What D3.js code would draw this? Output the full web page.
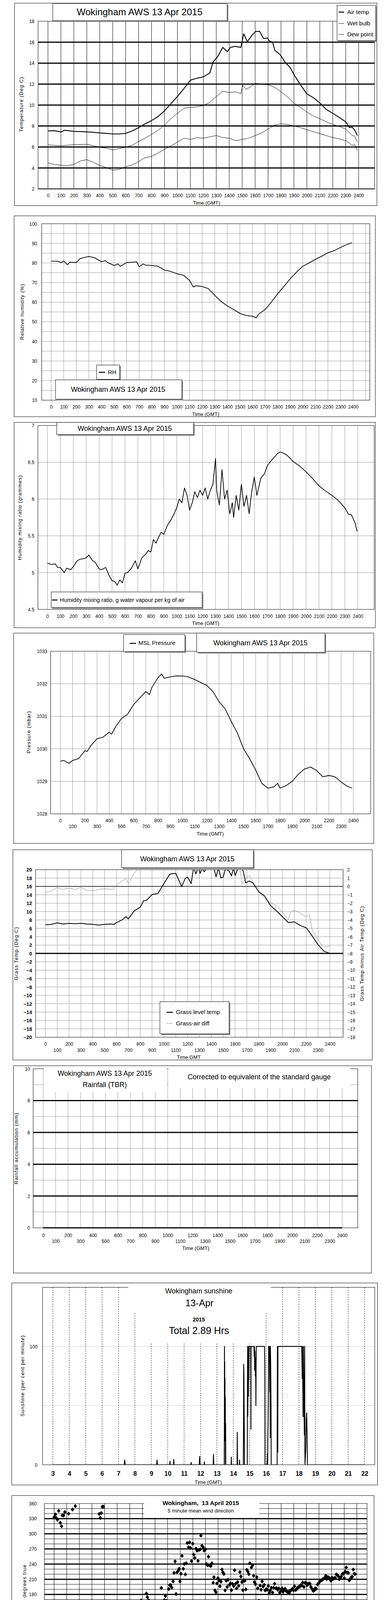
<!DOCTYPE html>
<html lang="en">
<head>
<meta charset="UTF-8">
<title>Wokingham AWS 13 Apr 2015</title>
<script src="https://d3js.org/d3.v7.min.js"></script>
<style>
  html, body { margin: 0; padding: 0; background: #fff; width: 1000px; height: 5000px; overflow: hidden; }
  svg { display: block; position: absolute; left: 0; top: 0; }
  text { white-space: pre; }
</style>
</head>
<body>
<svg id="chart" width="1000" height="5000"></svg>
<script>
// ---------- data ----------
const airT = [0,50,100,130,200,250,300,350,400,450,500,550,600,650,700,750,800,850,900,950,1000,1050,1100,1150,1200,1250,1275,1310,1350,1385,1410,1445,1490,1512,1540,1575,1605,1635,1665,1695,1712,1735,1753,1770,1796,1836,1867,1907,1950,2000,2050,2100,2150,2200,2250,2300,2330,2350,2370,2390];
const airV = [7.53,7.55,7.44,7.6,7.49,7.47,7.44,7.40,7.34,7.30,7.24,7.24,7.30,7.53,7.84,8.2,8.52,8.9,9.45,10.14,10.82,11.57,12.38,12.56,12.69,13.06,14.1,14.6,15.5,15.1,15.5,15.6,15.5,16.8,16.05,16.65,17.03,17.03,16.35,16.4,16.1,16.0,15.2,15.05,14.77,14.0,13.64,12.77,11.94,11.07,10.7,10.2,9.58,9.21,8.83,8.4,7.84,7.9,7.6,7.09];
const wetT = [0,100,200,300,350,400,450,500,550,600,650,700,750,800,850,900,950,1000,1050,1100,1150,1200,1250,1300,1350,1400,1450,1490,1505,1530,1560,1600,1650,1700,1750,1800,1850,1900,1950,2000,2050,2100,2150,2200,2250,2300,2330,2350,2370,2390];
const wetV = [6.2,6.12,6.22,6.26,6.12,5.97,5.89,5.72,5.85,5.97,6.16,6.53,6.84,7.2,7.59,8.09,8.7,9.2,9.7,9.77,9.83,9.95,10.26,10.82,11.32,11.2,11.26,11.1,11.9,11.5,11.7,12.07,12.0,11.94,11.7,11.26,10.76,10.2,9.77,9.33,8.96,8.7,8.4,8.15,7.96,7.71,7.34,7.09,7.03,6.47];
const dewT = [0,50,100,150,200,250,300,350,400,450,500,550,600,650,700,750,800,850,900,950,1000,1050,1100,1150,1200,1250,1300,1350,1400,1450,1500,1550,1600,1650,1700,1750,1800,1850,1900,1950,2000,2050,2100,2150,2200,2250,2300,2330,2350,2370,2390];
const dewV = [4.48,4.33,4.26,4.21,4.33,4.67,4.79,4.54,4.23,4.04,3.8,3.86,4.11,4.29,4.6,4.98,5.1,5.41,5.78,6.1,6.47,6.84,6.72,6.9,6.84,6.97,7.09,6.9,6.84,6.6,6.72,6.84,7.09,7.34,7.71,8.09,8.21,8.15,8.02,7.84,7.65,7.47,7.28,7.09,6.9,6.78,6.6,6.35,6.16,6.22,5.66];

const rhT = [0,50,80,100,130,150,200,230,270,300,330,350,400,430,450,500,530,550,600,650,680,700,730,750,800,850,900,950,1000,1050,1100,1130,1150,1200,1250,1300,1350,1400,1450,1500,1550,1600,1630,1650,1700,1750,1800,1850,1900,1950,2000,2050,2100,2150,2200,2250,2300,2350,2390];
const rhV = [80.9,80.9,80.2,81.0,79.1,80.4,80.2,82.2,82.9,83.3,82.9,82.5,80.6,81.2,80.2,78.7,79.5,78.3,80.2,80.4,80.6,78.0,79.5,78.9,78.7,78.3,76.4,75.7,74.5,73.8,71.1,67.7,68.4,68.0,66.9,63.5,60.4,58.1,56.2,54.3,53.2,52.8,52.0,53.9,56.2,60.0,64.2,68.0,71.9,75.3,78.3,80.0,81.8,83.4,85.2,86.3,87.9,89.4,90.3];

const mixT = [0,30,60,80,100,130,150,180,200,230,250,280,300,320,350,370,400,420,450,480,500,520,540,560,580,600,620,650,680,700,730,760,780,800,820,840,860,880,900,930,950,980,1000,1020,1040,1060,1080,1100,1120,1140,1160,1180,1200,1220,1240,1260,1280,1300,1310,1330,1350,1370,1390,1410,1430,1440,1460,1480,1500,1520,1540,1560,1580,1600,1620,1650,1680,1700,1720,1750,1780,1800,1830,1850,1880,1900,1950,2000,2050,2100,2150,2200,2250,2300,2330,2350,2380,2395];
const mixV = [5.13,5.11,5.12,5.07,5.07,5.0,5.06,5.04,5.08,5.16,5.18,5.19,5.2,5.24,5.16,5.14,5.05,5.04,5.07,4.95,4.89,4.88,4.83,4.9,4.86,4.99,5.0,5.06,5.16,5.05,5.2,5.25,5.3,5.28,5.45,5.4,5.48,5.55,5.52,5.65,5.7,5.8,5.88,6.0,5.95,6.15,6.05,5.85,5.95,6.1,6.02,6.12,6.05,6.15,6.0,6.12,6.2,6.55,6.1,5.92,6.4,6.0,6.12,5.8,5.95,5.75,6.05,5.85,6.2,5.9,6.05,5.8,6.1,6.3,6.05,6.28,6.35,6.45,6.5,6.56,6.62,6.64,6.62,6.6,6.55,6.51,6.45,6.37,6.28,6.18,6.11,6.05,5.98,5.88,5.79,5.79,5.67,5.56];

const presT = [0,30,70,100,150,200,220,250,300,350,400,420,450,500,550,600,650,700,730,750,800,830,850,900,950,1000,1050,1100,1150,1200,1250,1300,1350,1400,1450,1500,1550,1600,1650,1700,1750,1780,1800,1850,1900,1950,2000,2050,2100,2150,2200,2250,2300,2350,2390];
const presV = [1029.62,1029.64,1029.55,1029.64,1029.70,1029.94,1029.92,1030.10,1030.31,1030.36,1030.51,1030.45,1030.66,1030.93,1031.06,1031.36,1031.56,1031.76,1031.67,1031.89,1032.19,1032.30,1032.17,1032.21,1032.24,1032.24,1032.21,1032.13,1032.04,1031.95,1031.76,1031.45,1031.23,1030.84,1030.49,1030.01,1029.70,1029.35,1028.94,1028.79,1028.83,1028.94,1028.79,1028.87,1029.0,1029.22,1029.38,1029.44,1029.33,1029.14,1029.18,1029.14,1028.98,1028.85,1028.79];

const grassT = [0,50,100,150,200,250,300,350,400,450,500,550,580,600,650,680,700,750,800,830,850,900,950,1000,1050,1100,1150,1180,1200,1230,1250,1270,1290,1305,1320,1340,1380,1420,1440,1460,1480,1500,1520,1552,1570,1585,1602,1630,1650,1670,1690,1720,1751,1800,1850,1900,1950,2000,2050,2100,2150,2200,2250,2300,2350,2395];
const grassV = [6.84,6.95,7.3,7.02,7.19,7.09,7.19,7.02,6.95,6.77,6.95,7.02,6.95,7.37,8.07,8.77,8.25,10.18,11.05,12.63,12.63,14.04,14.32,16.67,18.95,19.12,15.96,17.9,18.25,16.67,20.5,19.0,20.6,19.1,20.3,19.5,21,20.6,18.3,20.4,18.0,18.25,20.3,19.6,18.5,20.4,18.6,20.8,21,19.5,16.84,17.3,16.84,14.74,13.68,11.4,10.18,8.77,7.37,7.54,6.67,6.14,4.2,2.1,0.53,0.07];
const diffT = [0,51,101,149,200,251,301,349,400,451,501,575,600,651,680,701,749,775,790,1620,1642,1659,1690,1722,1754,1800,1850,1900,1950,2000,2050,2069,2100,2150,2200,2227,2251,2300,2333,2354,2400];
const diffV = [-0.72,-0.54,-0.1,-0.37,-0.19,-0.37,-0.1,-0.46,-0.54,-0.37,-0.28,-0.37,0.16,0.68,0.95,0.33,1.56,2.0,2.4,2.4,2.0,0.33,0.95,1.3,0.42,-0.63,-1.42,-1.95,-2.3,-3.09,-3.96,-3.09,-2.82,-3.18,-3.61,-3.35,-5.19,-6.33,-7.04,-7.21,-7.12];

const rainT = [0, 2400];
const rainV = [0, 0];

const sunH = [3,7.35,7.38,7.41,9.32,9.35,9.38,10.12,10.14,10.16,10.35,10.37,10.39,11.41,11.43,11.45,11.92,11.95,11.97,12.22,12.24,12.26,12.77,12.79,12.81,
  13.445,13.455,13.46,13.47,13.475,13.48,13.49,13.5,13.51,13.52,13.53,13.54,
  13.87,13.88,13.89,14.23,14.24,14.25,14.26,14.37,14.38,14.39,
  14.61,14.62,14.63,14.645,14.66,14.67,14.68,
  14.85,14.86,14.87,14.88,14.89,14.9,14.91,14.92,14.93,14.94,14.96,
  15.06,15.07,15.075,15.08,15.26,15.27,15.29,15.3,15.32,15.34,15.36,15.375,15.39,15.4,15.9,15.92,15.93,
  16.06,16.08,16.09,16.1,16.12,16.14,16.15,16.2,16.22,16.23,16.25,16.26,16.28,16.3,16.31,
  16.67,16.68,16.69,16.7,16.71,16.72,
  18.17,18.2,18.22,18.25,18.27,18.3,18.33,18.35,18.36,18.37,18.42,18.44,18.47,18.5,18.52,22];
const sunP = [0,0,4,0,0,4,0,0,3,0,0,4.5,0,0,2,0,0,7,0,0,2.5,0,0,8.7,0,
  0,32,100,30,87,20,73,30,57,0,35,0,
  0,6.5,0,0,27.5,13,0,0,4,0,
  0,29.5,85,76,45.8,28,0,
  0,55,100,41,58.6,70,85,58,100,72,100,
  100,65,30,100,100,92,100,80,96,75,90,50,85,100,100,85,0,
  0,9.6,0,19.6,38,70,100,100,61.6,100,23,100,81.5,48,0,
  0,60,100,31,10.7,100,
  100,72.7,100,40.6,100,59,25,100,15,0,15,37.8,43.9,21.8,0,0];

const wdH = [0,0.1,0.16,0.26,0.36,0.4,0.49,0.59,0.65,0.75,0.85,0.89,0.95,1.15,1.19,1.27,1.34,1.42,1.46,1.58,1.68,1.74,1.84,1.96,2.04,2.15,2.23,2.33,2.43,2.51,2.59,2.67,2.73,2.83,2.93,2.99,3.08,3.16,3.22,3.32,3.42,3.5,3.58,3.66,3.74,3.82,3.9,3.97,4.07,4.15,4.23,4.31,4.37,4.47,4.59,4.67,4.76,4.86,4.96,5.06,5.14,5.24,5.34,5.42,5.48,5.56,5.65,5.73,5.81,5.87,5.95,6.07,6.15,6.23,6.33,6.43,6.5,6.58,6.68,6.74,6.82,6.9,6.98,7.04,7.14,7.24,7.32,7.39,7.49,7.57,7.65,7.75,7.83,7.91,7.99,8.09,8.15,8.22,8.32,8.42,8.5,8.6,8.66,8.74,8.82,8.9,8.98,9.09,9.17,9.25,9.33,9.43,9.51,9.59,9.67,9.75,9.83,9.91,9.98,10.06,10.14,10.24,10.32,10.4,10.48,10.56,10.66,10.74,10.81,10.89,10.99,11.07,11.15,11.25,11.33,11.41,11.49,11.59,11.64,11.72,11.82,11.9,12,12.08,12.16,12.24,12.32,12.42,12.51,12.61,12.67,12.75,12.83,12.91,12.99,13.07,13.15,13.23,13.31,13.38,13.46,13.56,13.64,13.72,13.8,13.9,13.98,14.06,14.14,14.24,14.31,14.39,14.47,14.55,14.63,14.73,14.81,14.89,14.97,15.05,15.12,15.2,15.28,15.36,15.44,15.52,15.64,15.74,15.82,15.88,15.97,16.07,16.15,16.23,16.33,16.41,16.49,16.57,16.65,16.73,16.82,16.9,16.98,17.06,17.14,17.22,17.32,17.4,17.48,17.58,17.66,17.73,17.81,17.89,17.99,18.07,18.15,18.23,18.31,18.41,18.49,18.56,18.64,18.72,18.8,18.9,18.98,19.06,19.14,19.22,19.3,19.4,19.48,19.55,19.63,19.71,19.81,19.89,19.97,20.05,20.13,20.21,20.28,20.36,20.46,20.54,20.62,20.7,20.78,20.88,20.96,21.04,21.12,21.22,21.3,21.38,21.46,21.54,21.61,21.71,21.79,21.87,21.95,22.03,22.11,22.21,22.29,22.37,22.45,22.53,22.61,22.69,22.77,22.87,22.95,23.01,23.09,23.16,23.24,23.32,23.4,23.48,23.56,23.64,23.72,23.8,23.86];
const wdD = [332.9,338.4,331.5,328,345.4,46.9,321.9,315,336.5,336.5,343,15.2,13.8,339.8,15.2,16.5,70.4,20.7,348.1,1.3,355,52.5,5.5,49.1,56,82.8,75.9,24.8,24.8,38.6,39.5,79.4,16.5,36.7,24.3,26.2,35.3,38.6,40.6,15.2,15.2,21.5,339.3,331.5,341.2,353.6,353.6,22,17,8.2,0,13.2,17.9,23.4,46.4,39.5,40,48.3,42.8,27.6,33.9,28.4,40,56,37.3,56.6,78.7,69,74.6,70.4,76.7,65,82.8,83.7,101.6,89.7,94.5,94.5,94.5,105.8,145.6,168,152,157.5,120.2,149.2,181.8,174.6,168.5,78.7,80.1,53,59.4,46.4,53.3,95.3,112.7,42.8,74.1,150.5,192.8,149.2,142.3,168.5,176.8,167.1,164.4,190.6,198.4,198.4,193.4,205.8,222.4,245.3,180.9,223.8,226.5,230.7,205.8,221,256.4,230.7,240.4,219.6,241.7,281.8,273.5,283.2,272.1,245.9,280.4,258.9,252,270.7,266.6,246.4,268,269.4,296.4,276.3,273.5,266.6,269.4,240.4,237.6,254.7,237.6,236.2,241.7,203,214.1,187.9,184.3,201.7,212.2,207.2,196.1,205.3,229.3,223.8,220.5,187.9,207.2,194.8,209.1,198.9,201.7,188.4,201.1,196.1,227.9,201.1,192,204.4,196.9,224.3,215.5,204.4,188.4,207.2,207.2,190,228.7,225.2,220.2,241.7,233.4,238.1,216.9,204.4,200.3,214.1,192,167.1,197.5,189.2,205.8,195.5,198.9,187.9,190.6,189.2,196.7,183.2,187.9,193.4,183.7,193.4,201.1,192,192,189.2,192,183.7,187.9,192,185.1,189.2,191.2,186.5,185.1,185.6,182.9,187.3,188.7,191.2,187.9,196.1,188.7,190,193.4,194.8,195.4,198.4,197.5,203.6,194.8,203,203,198.4,200.3,201.7,201.1,194.8,190.6,187,187.9,192,191.2,199.5,201.7,205,206.6,208,210,211.3,212.2,216.9,210.5,214.1,213.3,210.5,207.2,213.3,210.5,212.2,212.7,219.6,218.2,216,210,212.2,215.5,221,221,212.2,225.2,233.4,223.2,222.4,207.7,210.5,214.1,214.9,229.3,221,220.2];

const meanH = [0,0.1,0.2,0.3,0.4,0.5,0.6,0.75,1,1.25,1.5,1.75,2,2.25,2.5,2.75,3,3.5,4,4.5,5,5.5,6,6.25,6.5,6.75,7,7.25,7.5,7.75,8,8.25,8.5,8.75,9,9.25,9.5,9.75,10,10.25,10.5,10.75,11,11.25,11.5,11.75,12,12.25,12.5,12.75,13,13.25,13.5,13.75,14,14.25,14.5,14.75,15,15.25,15.5,15.75,16,16.25,16.5,16.75,17,17.25,17.5,17.75,18,18.25,18.5,18.75,19,19.25,19.5,19.75,20,20.25,20.5,20.75,21,21.25,21.5,21.75,22,22.25,22.5,22.75,23,23.25,23.5,23.75,23.9];
const meanV = [3.1,2.6,2.3,2.6,1.8,1.3,0.7,1.0,1.3,1.0,1.3,1.0,0.7,1.15,1.5,1.5,1.4,1.3,1.3,1.4,1.3,1.3,1.4,1.5,1.8,2.0,3.4,3.1,2.3,1.0,1.3,1.8,1.5,2.3,2.6,2.8,3.4,3.9,3.1,3.6,3.4,3.9,3.1,4.9,4.7,4.4,3.1,3.4,3.6,4.7,4.7,4.9,4.7,4.9,4.9,3.4,4.9,4.4,4.7,5.7,6.0,6.5,6.8,4.9,6.3,7.0,8.3,7.8,8.9,7.8,8.3,8.6,7.5,7.8,7.0,7.0,6.3,5.5,4.7,4.1,4.9,5.5,4.4,5.2,6.3,6.0,5.7,6.3,4.9,3.4,1.5,1.5,2.8,2.6,2.0];
const gustH = [0,0.1,0.25,0.5,0.75,1,1.5,2,2.5,3,3.5,4,4.5,5,5.5,6,6.5,6.75,7,7.25,7.5,7.75,8,8.5,9,9.5,10,10.5,11,11.5,12,12.5,13,13.5,14,14.5,15,15.5,16,16.5,17,17.3,17.5,18,18.5,19,19.5,20,20.5,21,21.5,22,22.5,23,23.25,23.5,23.75,23.9];
const gustV = [4.7,3.9,2.8,1.8,1.5,1.8,2.0,1.8,2.6,2.0,2.3,2.6,2.3,2.6,2.0,2.3,2.8,3.1,5.5,4.4,3.9,2.3,3.1,4.1,4.9,5.5,6.5,7.0,7.8,7.0,5.5,6.0,7.5,7.0,7.5,8.3,8.1,9.1,9.6,9.1,11.2,12.5,11.5,11.0,10.7,9.9,8.3,6.8,6.8,6.5,8.1,7.8,6.0,2.6,2.3,4.1,3.9,2.3];
const lowH = [0.02,0.06,0.12,0.17,0.21,0.25,0.33,0.37,0.4,0.44,0.5,0.54,0.54,0.58,0.58,0.6,0.62,0.64,0.69,0.73,0.79,0.85,0.93,0.98,1.06,1.12,1.16,1.23,1.29,1.35,1.41,1.47,1.52,1.58,1.64,1.68,1.74,1.79,1.85,1.91,1.97,2.02,2.08,2.16,2.24,2.29,2.35,2.43,2.51,2.56,2.62,2.68,2.74,2.81,2.87,2.95,3.03,3.08,3.16,3.24,3.32,3.39,3.47,3.55,3.62,3.7,3.78,3.86,3.93,3.99,4.07,4.14,4.22,4.3,4.38,4.45,4.53,4.61,4.68,4.76,4.84,4.92,4.99,5.07,5.15,5.22,5.3,5.38,5.46,5.53,5.61,5.69,5.76,5.84,5.92,6,6.07,6.15,6.23,6.3,6.38,6.44,6.5,6.55,6.61,6.67,6.73,6.79,6.84,6.88,6.92,6.96,7,7.04,7.08,7.11,7.15,7.19,7.23,7.27,7.33,7.36,7.42,7.48,7.52,7.56,7.6,7.63,7.63,7.67,7.69,7.71,7.73,7.75,7.83,7.89,7.92,7.98,8.02,8.08,8.12,8.17,8.23,8.27,8.33,8.37,8.41,8.46,8.52,8.56,8.6,8.64,8.69,8.73,8.77,8.83,8.87,8.91,8.95,9,9.04,9.08,9.12,9.18,9.23,9.27,9.33,9.37,9.43,9.47,9.5,9.56,9.6,9.66,9.7,9.76,9.79,9.85,9.91,9.97,10.24,10.33,10.43,10.49,10.55,10.6,10.66,10.72,10.78,10.84,10.89,10.95,11.01,11.05,11.72,11.76,11.78,11.8,11.82,11.84,11.86,11.91,11.97,12.03,12.09,12.17,12.22,12.28,12.36,12.45,12.51,12.57,12.63,12.67,12.7,12.76,12.82,14.17,14.23,14.29,14.32,14.36,14.4,14.96,15.06,15.02,15.06,15.02,15.04,20.46,20.51,22.58,22.61,22.67,22.73,22.77,22.83,22.88,22.92,22.96,23.02,23.06,23.08,23.1,23.12,23.15,23.19,23.25,23.29,23.33,23.37,23.42,23.48,23.54,23.6,23.64,23.67,23.71,23.77,23.83,23.89,23.93,23.97,23.98];
const lowV = [27.6,26,24.5,23.3,21.7,20.2,27.5,26.2,24.8,22.2,20.2,18.1,15.4,12.8,11,9.2,7.5,6.5,9.9,13.8,12.3,11.2,12.5,10.2,9.1,11,7.8,9.6,13.3,10.4,7.3,8.3,9.1,13.3,14.6,12,10.7,8.3,7,6.8,8.9,11.5,12,13,14.4,12.5,14.9,15.9,18.3,19.1,17.2,15.7,13.8,12.3,16.2,15.1,15.9,13.8,12.3,10.4,12,13.8,16.2,14.9,13.3,15.9,17.5,15.1,12.8,10.7,15.1,17.2,19.1,16.7,14.4,12.3,15.7,19.1,17.5,14.6,13.3,11.7,9.9,13.3,15.4,16.7,13.8,14.4,15.9,17.8,16.2,13.3,11.7,13.8,15.1,14.6,15.4,13.6,12.5,14.9,17,18.8,19.9,20.7,18.8,19.6,21.2,22,23.5,25.9,28.2,30.6,32.4,35.3,34.3,33.2,30.9,29.3,27.5,25.9,25.1,26.7,28.5,30.3,33.2,31.1,29,25.4,21.7,16.2,11.5,9.6,8.3,6.8,10.4,12.8,14.4,15.9,18.8,17.5,15.9,14.6,13.6,16.7,15.4,12,10.7,12.8,17.8,20.9,22.5,25.5,26.4,24.1,29,27.7,32.7,31.1,33.5,27.7,26.7,25.4,28.5,29,32.7,34,38.2,39.8,36.6,36.4,35.6,34,32.7,30.9,29,31.9,34.5,35.6,36.9,37.9,39,39.8,39.3,35.3,32.7,38.2,39.3,36.4,34,31.7,29.8,33.2,34.5,39.8,39.3,37.2,35.1,32.2,28.8,27.2,26.4,30.3,32.7,31.7,32.4,33.8,36.1,38.5,39,39.8,37.4,35.8,30.3,29,33,34.8,38.2,39.5,37.7,35.6,34.5,32.4,31.1,36.6,36.9,33,32.2,31.1,30.3,39.8,39.9,40,37.2,35.8,34.3,32.7,36.9,37.2,34.8,33.2,31.7,30.6,28.2,26.4,24.3,21.7,19.6,17.2,15.4,13.8,12.3,13.6,15.1,17.5,19.6,22.5,24.1,27.5,29,27.7,25.4,23.3,21.2,19.6];

// tick values
const hhmmTicks = d3.range(0, 2401, 100);
const hhmmEven = d3.range(0, 2401, 200);
const hhmmOdd = d3.range(100, 2400, 200);
const sunTicks = d3.range(3, 23);
const dirTicks = d3.range(0, 361, 30);
const hourTicks = d3.range(0, 25);
const speedEven = d3.range(0, 23, 2);
const speedOdd = d3.range(1, 24, 2);

// ---------- helpers ----------
const FONT = '"Liberation Sans", Arial, Helvetica, sans-serif';
const svg = d3.select('#chart').attr('font-family', FONT);
svg.append('rect').attr('width', 1000).attr('height', 5000).attr('fill', '#fff');
const defs = svg.append('defs');
let clipN = 0;

function rect(g, x0, y0, x1, y1, fill, stroke, sw) {
  return g.append('rect').attr('x', x0).attr('y', y0)
    .attr('width', x1 - x0).attr('height', y1 - y0)
    .attr('fill', fill || 'none').attr('stroke', stroke === undefined ? '#000' : stroke)
    .attr('stroke-width', sw || 1);
}
function shadowBox(g, x0, y0, x1, y1) {
  rect(g, x0 + 3, y0 + 3, x1 + 3, y1 + 3, '#8c8c8c', 'none');
  rect(g, x0, y0, x1, y1, '#fff');
}
function label(g, x, y, s, size, o) {
  o = o || {};
  const t = g.append('text').attr('x', x).attr('y', y).attr('dy', '0.35em')
    .attr('text-anchor', o.anchor || 'middle').attr('font-size', size)
    .attr('fill', o.fill || '#000').text(s);
  if (o.bold) t.attr('font-weight', 'bold');
  if (o.ls) t.attr('letter-spacing', o.ls);
  if (o.rot) t.attr('transform', `rotate(-90,${x},${y})`);
  return t;
}
function gridH(g, y, vals, x0, x1, sw, dash, color) {
  g.append('g').selectAll('line').data(vals).join('line')
    .attr('x1', x0).attr('x2', x1).attr('y1', d => y(d)).attr('y2', d => y(d))
    .attr('stroke', color || '#000').attr('stroke-width', sw)
    .attr('stroke-dasharray', dash || null);
}
function gridV(g, x, vals, y0, y1, sw, dash, color) {
  g.append('g').selectAll('line').data(vals).join('line')
    .attr('y1', y0).attr('y2', y1).attr('x1', d => x(d)).attr('x2', d => x(d))
    .attr('stroke', color || '#000').attr('stroke-width', sw)
    .attr('stroke-dasharray', dash || null);
}
function yTicks(g, y, vals, xr, fmt, size, o) {
  o = o || {};
  const ax = (o.right ? d3.axisRight(y) : d3.axisLeft(y))
    .tickValues(vals).tickSize(0).tickPadding(0).tickFormat(fmt || d3.format('d'));
  const a = g.append('g').attr('transform', `translate(${xr},0)`).call(ax);
  a.select('.domain').remove();
  a.selectAll('text').attr('font-size', size).attr('font-family', FONT).attr('fill', '#000')
    .attr('dy', '0.35em').attr('font-weight', o.bold ? 'bold' : null);
}
function xTicks(g, x, vals, yc, fmt, size, o) {
  o = o || {};
  const ax = d3.axisBottom(x).tickValues(vals).tickSize(0).tickPadding(0)
    .tickFormat(fmt || d3.format('d'));
  const a = g.append('g').attr('transform', `translate(0,${yc})`).call(ax);
  a.select('.domain').remove();
  a.selectAll('text').attr('font-size', size).attr('font-family', FONT).attr('fill', '#000')
    .attr('y', 0).attr('dy', '0.35em').attr('font-weight', o.bold ? 'bold' : null);
}
function clip(l, t, r, b) {
  const id = 'clip' + (clipN++);
  defs.append('clipPath').attr('id', id).append('rect')
    .attr('x', l).attr('y', t).attr('width', r - l).attr('height', b - t);
  return `url(#${id})`;
}
function series(g, x, y, xs, ys, sw, color, cp) {
  g.append('path').datum(d3.zip(xs, ys))
    .attr('d', d3.line().x(d => x(d[0])).y(d => y(d[1])))
    .attr('fill', 'none').attr('stroke', color || '#000').attr('stroke-width', sw)
    .attr('stroke-linejoin', 'round').attr('clip-path', cp || null);
}
function diamond(a, b) { return `M0,${-b}L${a},0L0,${b}L${-a},0Z`; }
function legendLine(g, x0, x1, y, sw, color) {
  g.append('line').attr('x1', x0).attr('x2', x1).attr('y1', y).attr('y2', y)
    .attr('stroke', color || '#000').attr('stroke-width', sw);
}
const DOT = '1,1.5';

// ---------- 1. temperature ----------
{
  const g = svg.append('g');
  const P = {l: 97.3, r: 958, t: 54.3, b: 483.6};
  const x = d3.scaleLinear([0, 2400], [122.7, 917.3]);
  const y = d3.scaleLinear([2, 18], [P.b, P.t]);
  rect(g, 37, 8, 964, 526.5);
  gridV(g, x, hhmmTicks, P.t, P.b, 1);
  gridH(g, y, d3.range(4, 17, 2), P.l, P.r, 3);
  rect(g, P.l, P.t, P.r, P.b);
  gridH(g, y, [2], P.l, P.r, 2);
  yTicks(g, y, d3.range(2, 19, 2), 88, null, 12);
  xTicks(g, x, hhmmTicks, 501, null, 12);
  label(g, 528, 519, 'Time (GMT)', 13);
  label(g, 54, 267, 'Temperature (Deg C)', 13, {rot: true, ls: 1});
  const cp = clip(P.l, P.t, P.r, P.b);
  series(g, x, y, dewT, dewV, 1, '#000', cp);
  series(g, x, y, wetT, wetV, 1, '#000', cp);
  series(g, x, y, airT, airV, 2.2, '#000', cp);
  shadowBox(g, 135, 9, 581, 53);
  label(g, 357, 31, 'Wokingham AWS 13 Apr 2015', 24);
  shadowBox(g, 862, 14, 961, 104);
  [['Air temp', 31, 2.5], ['Wet bulb', 60, 1], ['Dew point', 88, 1]].forEach(d => {
    legendLine(g, 866, 880, d[1], d[2]);
    label(g, 888, d[1], d[0], 15, {anchor: 'start'});
  });
}

// ---------- 2. relative humidity ----------
{
  const g = svg.append('g');
  const P = {l: 106.6, r: 945.8, t: 572.8, b: 1024.4};
  const x = d3.scaleLinear([0, 2400], [130.8, 903]);
  const y = d3.scaleLinear([10, 100], [P.b, P.t]);
  rect(g, 36, 552.6, 960, 1066.8);
  gridH(g, y, d3.range(15, 100, 5), P.l, P.r, 1, DOT);
  gridV(g, x, d3.range(0, 2501, 100), P.t, P.b, 1, DOT);
  rect(g, P.l, P.t, P.r, P.b);
  yTicks(g, y, d3.range(10, 101, 10), 95, null, 12);
  xTicks(g, x, hhmmTicks, 1042, null, 12);
  label(g, 526, 1060.5, 'Time (GMT)', 13);
  label(g, 56, 798, 'Relative humidity (%)', 13, {rot: true, ls: 1});
  series(g, x, y, rhT, rhV, 1.8, '#000', clip(P.l, P.t, P.r, P.b));
  shadowBox(g, 247, 934.5, 306, 971);
  legendLine(g, 253, 269, 953, 2.5);
  label(g, 276, 953, 'RH', 15, {anchor: 'start'});
  shadowBox(g, 142, 972.5, 465, 1022);
  label(g, 302, 997, 'Wokingham AWS 13 Apr 2015', 18);
}

// ---------- 3. humidity mixing ratio ----------
{
  const g = svg.append('g');
  const P = {l: 97, r: 957, t: 1089.3, b: 1560};
  const x = d3.scaleLinear([0, 2400], [121.2, 915]);
  const y = d3.scaleLinear([4.5, 7], [P.b, P.t]);
  rect(g, 36, 1081.4, 960, 1607);
  gridH(g, y, [5, 5.5, 6, 6.5], P.l, P.r, 1, DOT);
  gridV(g, x, hhmmTicks, P.t, P.b, 1, DOT);
  rect(g, P.l, P.t, P.r, P.b);
  yTicks(g, y, [4.5, 5, 5.5, 6, 6.5, 7], 88, d3.format('~g'), 12);
  xTicks(g, x, hhmmTicks, 1577.5, null, 12);
  label(g, 526, 1595.5, 'Time (GMT)', 13);
  label(g, 50, 1325, 'Humidity mixing ratio (grammes)', 13, {rot: true, ls: 1});
  series(g, x, y, mixT, mixV, 1.8, '#000', clip(P.l, P.t, P.r, P.b));
  shadowBox(g, 145, 1081.4, 495, 1112.5);
  label(g, 319, 1097, 'Wokingham AWS 13 Apr 2015', 18);
  shadowBox(g, 131, 1515.4, 517, 1555.4);
  legendLine(g, 133, 147, 1536, 2.5);
  label(g, 153, 1535.5, 'Humidity mixing ratio, g water vapour per kg of air', 14.5, {anchor: 'start'});
}

// ---------- 4. MSL pressure ----------
{
  const g = svg.append('g');
  const P = {l: 129.5, r: 948, t: 1667.2, b: 2083.5};
  const x = d3.scaleLinear([0, 2400], [154.4, 903.6]);
  const y = d3.scaleLinear([1028, 1033], [P.b, P.t]);
  rect(g, 35, 1620.7, 956, 2159);
  gridH(g, y, [1029, 1030, 1031, 1032], P.l, P.r, 1, DOT);
  gridV(g, x, hhmmTicks, P.t, P.b, 1, DOT);
  rect(g, P.l, P.t, P.r, P.b);
  yTicks(g, y, d3.range(1028, 1034), 121, null, 12);
  xTicks(g, x, hhmmEven, 2101, null, 12);
  xTicks(g, x, hhmmOdd, 2116, null, 12);
  label(g, 537.6, 2134.4, 'Time (GMT)', 13);
  label(g, 73, 1874, 'Pressure (mbar)', 13, {rot: true, ls: 1});
  series(g, x, y, presT, presV, 1.8, '#000', clip(P.l, P.t, P.r, P.b));
  shadowBox(g, 316, 1624.4, 473, 1668);
  legendLine(g, 332, 348, 1647, 2.5);
  label(g, 354, 1646, 'MSL Pressure', 15, {anchor: 'start'});
  shadowBox(g, 503, 1620.7, 831, 1670);
  label(g, 666, 1645.4, 'Wokingham AWS 13 Apr 2015', 18);
}

// ---------- 5. grass temperature ----------
{
  const g = svg.append('g');
  const P = {l: 91, r: 877.5, t: 2226.4, b: 2655.3};
  const x = d3.scaleLinear([0, 2400], [116, 843.7]);
  const y = d3.scaleLinear([-20, 20], [P.b, P.t]);
  const yR = d3.scaleLinear([-18, 2], [P.b, P.t]);
  rect(g, 33, 2175.3, 952, 2713.6);
  gridH(g, y, d3.range(-18, 20, 2), P.l, P.r, 1, DOT);
  gridV(g, x, hhmmTicks, P.t, P.b, 1, DOT);
  gridH(g, y, [16], P.l, P.r, 1.5);
  gridH(g, y, [0], P.l, P.r, 3);
  rect(g, P.l, P.t, P.r, P.b);
  yTicks(g, y, d3.range(-20, 21, 2), 82, null, 13, {bold: true});
  yTicks(g, yR, d3.range(-18, 3, 1), 888, null, 12, {right: true});
  xTicks(g, x, hhmmEven, 2673, null, 12);
  xTicks(g, x, hhmmOdd, 2689, null, 12);
  label(g, 482.8, 2706.5, 'Time GMT', 13);
  label(g, 41, 2441, 'Grass Temp (Deg C)', 13, {rot: true, ls: 1});
  label(g, 925, 2441, 'Grass Temp minus Air Temp (Deg C)', 13, {rot: true, ls: 1});
  const cp = clip(P.l, P.t, P.r, P.b);
  series(g, x, yR, diffT, diffV, 1, '#8a8a8a', cp);
  series(g, x, y, grassT, grassV, 2, '#000', cp);
  shadowBox(g, 311, 2175.3, 648, 2221.5);
  label(g, 479, 2199, 'Wokingham AWS 13 Apr 2015', 18);
  shadowBox(g, 409, 2564.3, 586, 2646.7);
  legendLine(g, 426, 442, 2591.5, 2.5);
  label(g, 450, 2590.5, 'Grass level temp', 15, {anchor: 'start'});
  legendLine(g, 426, 442, 2620, 1, '#8a8a8a');
  label(g, 450, 2620, 'Grass-air diff', 15, {anchor: 'start'});
}

// ---------- 6. rainfall ----------
{
  const g = svg.append('g');
  const P = {l: 84.8, r: 915, t: 2736, b: 3143.3};
  const x = d3.scaleLinear([0, 2400], [110.3, 875]);
  const y = d3.scaleLinear([0, 10], [P.b, P.t]);
  rect(g, 34.4, 2728.3, 950, 3258.9);
  gridH(g, y, [1, 3, 5, 7, 9], P.l, P.r, 1, DOT);
  gridV(g, x, hhmmTicks, P.t, P.b, 1, DOT);
  gridH(g, y, [2, 4, 6, 8], P.l, P.r, 3);
  rect(g, P.l, P.t, P.r, P.b);
  series(g, x, y, rainT, rainV, 3, '#000');
  yTicks(g, y, d3.range(0, 11, 2), 77, null, 12);
  xTicks(g, x, hhmmEven, 3162.3, null, 12);
  xTicks(g, x, hhmmOdd, 3177.7, null, 12);
  label(g, 500.6, 3195, 'Time (GMT)', 13);
  label(g, 41.5, 2940, 'Rainfall accumulation (mm)', 13, {rot: true, ls: 1});
  rect(g, 112, 2733, 427, 2796, '#fff', 'none');
  rect(g, 430.5, 2733, 896, 2786, '#fff', 'none');
  label(g, 268, 2747.5, 'Wokingham AWS 13 Apr 2015', 18);
  label(g, 268, 2776.5, 'Rainfall (TBR)', 18);
  label(g, 663, 2757, 'Corrected to equivalent of the standard gauge', 18);
}

// ---------- 7. sunshine ----------
{
  const g = svg.append('g');
  const P = {l: 109, r: 958.5, t: 3295.5, b: 3749.8};
  const x = d3.scaleLinear([3, 22], [135.2, 932.4]);
  const y = d3.scaleLinear([0, 150], [P.b, P.t]);
  rect(g, 30, 3284.4, 965.6, 3801.6);
  gridH(g, y, [50, 100], P.l, P.r, 1, '1,1', '#9a9a9a');
  gridV(g, x, sunTicks, P.t, P.b, 1, '3,3');
  rect(g, P.l, P.t, P.r, P.b);
  yTicks(g, y, [0, 100], 96, null, 12);
  xTicks(g, x, sunTicks, 3772.7, null, 16, {bold: true});
  label(g, 532.5, 3794, 'Time (GMT)', 13);
  label(g, 57.4, 3522, 'Sunshine (per cent per minute)', 13, {rot: true, ls: 1});
  series(g, x, y, sunH, sunP, 2.2, '#000', clip(P.l, P.t, P.r, P.b));
  rect(g, 328, 3292, 693, 3359, '#fff', 'none');
  rect(g, 357, 3358, 670, 3437, '#fff', 'none');
  label(g, 508.5, 3305, 'Wokingham sunshine', 18);
  label(g, 510, 3336, '13-Apr', 24);
  label(g, 508.5, 3378, '2015', 14, {bold: true});
  label(g, 509, 3406, 'Total 2.89 Hrs', 25);
}

// ---------- 8. wind direction ----------
{
  const g = svg.append('g');
  const P = {l: 113.5, r: 938.8, t: 3849, b: 4314.3};
  const x = d3.scaleLinear([0, 24], [138.4, 912.6]);
  const y = d3.scaleLinear([0, 360], [P.b, P.t]);
  rect(g, 30, 3828.6, 956.6, 4363.3);
  gridH(g, y, d3.range(10, 360, 10), P.l, P.r, 1);
  gridV(g, x, hourTicks, P.t, P.b, 1);
  gridH(g, y, d3.range(30, 331, 30), P.l, P.r, 3);
  rect(g, P.l, P.t, P.r, P.b);
  yTicks(g, y, dirTicks, 94, null, 12);
  xTicks(g, x, hourTicks, 4333.6, null, 12);
  label(g, 526, 4350, 'Time (GMT)', 13);
  label(g, 62.5, 4082, 'Direction, degrees true', 13, {rot: true, ls: 1});
  rect(g, 368.6, 3846, 663, 3885.8, '#fff', 'none');
  label(g, 513.4, 3847.5, 'Wokingham,  13 April 2015', 15.5, {bold: true});
  label(g, 513.4, 3867.5, '5 minute mean wind direction', 13);
  g.append('g').selectAll('path').data(d3.zip(wdH, wdD)).join('path')
    .attr('transform', d => `translate(${x(d[0])},${y(d[1])})`)
    .attr('d', diamond(4.5, 5.4)).attr('fill', '#000');
}

// ---------- 9. wind speed ----------
{
  const g = svg.append('g');
  const P = {l: 83.5, r: 946.4, t: 4424.6, b: 4820.1};
  const x = d3.scaleLinear([0, 23], [107.8, 868.6]);
  const y = d3.scaleLinear([0, 50], [P.b, P.t]);
  rect(g, 25.5, 4380.3, 952, 4895.2);
  gridH(g, y, d3.range(5, 50, 5), P.l, P.r, 1, DOT);
  gridV(g, x, hourTicks, P.t, P.b, 1, DOT);
  g.append('path').attr('fill', 'none').attr('stroke', '#000').attr('stroke-width', 1)
    .attr('d', `M429,${P.t}H${P.l}V${P.b}H${P.r}V${P.t}`);
  const hh = h => String(h).padStart(2, '0') + ':00';
  yTicks(g, y, d3.range(0, 51, 10), 74, null, 12);
  xTicks(g, x, speedEven, 4839.2, hh, 12);
  xTicks(g, x, speedOdd, 4853.7, hh, 12);
  label(g, 515, 4872.4, 'Time (GMT)', 13);
  label(g, 39.5, 4623.6, 'Speed (knots)', 13, {rot: true, ls: 1});
  const cp = clip(P.l, P.t - 6, P.r, P.b);
  g.append('g').selectAll('path').data(d3.zip(lowH, lowV)).join('path')
    .attr('transform', d => `translate(${x(d[0])},${y(d[1])})`)
    .attr('d', diamond(4.6, 4.6)).attr('fill', '#c8c8c8').attr('stroke', '#3a3a3a')
    .attr('stroke-width', 0.8).attr('clip-path', cp);
  series(g, x, y, gustH, gustV, 1, '#4a4a4a', cp);
  series(g, x, y, meanH, meanV, 2, '#000', cp);
  label(g, 258.3, 4404, 'Wokingham,  13 April 2015', 18);
  label(g, 569, 4392.3, 'Wind speed, 10 min mean / max gust', 14);
  label(g, 569, 4411, 'Speeds below 4 kt shown at x10 scale', 14);
  shadowBox(g, 724, 4386.5, 946, 4413);
  legendLine(g, 756, 768.5, 4401, 2.5);
  label(g, 775, 4400, 'Speed x 1', 11, {anchor: 'start'});
  g.append('path').attr('transform', 'translate(848,4400.5)').attr('d', diamond(4, 4))
    .attr('fill', '#c8c8c8').attr('stroke', '#3a3a3a').attr('stroke-width', 0.8);
  label(g, 861, 4400, 'Speed /10', 11, {anchor: 'start'});
}
</script>
</body>
</html>
